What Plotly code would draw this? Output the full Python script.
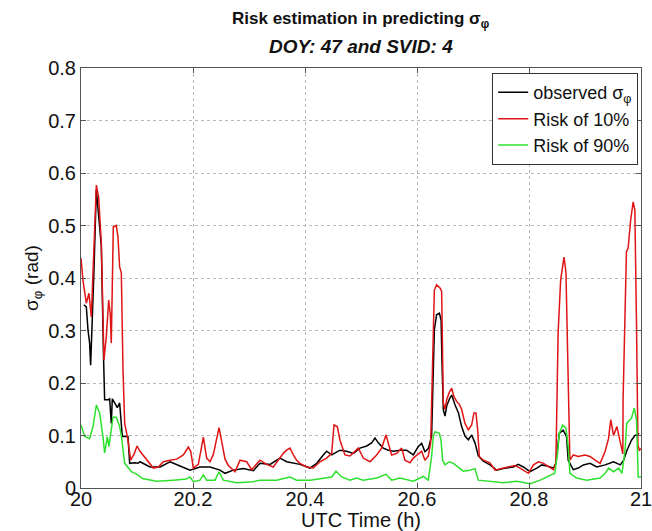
import plotly.graph_objects as go

# UTC time (h) and sigma_phi (rad) for each series
obs_t = [20.005, 20.0095, 20.0125, 20.0154, 20.0172, 20.0196, 20.0232, 20.0274, 20.0363, 20.040, 20.041,
         20.0422, 20.0482, 20.0511, 20.0541, 20.0559, 20.0601, 20.0648, 20.069, 20.072, 20.0738, 20.0839,
         20.0869, 20.0958, 20.1017, 20.1054, 20.1232, 20.1411, 20.159, 20.1768, 20.1947, 20.2125, 20.2304,
         20.2482, 20.2572, 20.272, 20.2899, 20.3078, 20.3196, 20.3375, 20.3553, 20.3672, 20.3791, 20.391,
         20.4089, 20.4208, 20.4327, 20.4387, 20.4476, 20.4625, 20.4744, 20.4863, 20.4982, 20.5101, 20.519,
         20.525, 20.5309, 20.5398, 20.5488, 20.5577, 20.5696, 20.5815, 20.5934, 20.6023, 20.6083, 20.6142,
         20.6202, 20.6261, 20.631, 20.635, 20.640, 20.643, 20.6446, 20.647, 20.650, 20.653, 20.658, 20.662,
         20.668, 20.674, 20.6797, 20.6857, 20.6916, 20.6976, 20.7035, 20.7095, 20.7184, 20.7303, 20.7422,
         20.7541, 20.772, 20.7809, 20.7898, 20.802, 20.814, 20.823, 20.832, 20.8435, 20.848, 20.854, 20.861,
         20.867, 20.870, 20.879, 20.888, 20.897, 20.909, 20.921, 20.936, 20.951, 20.963, 20.969, 20.975,
         20.983, 20.989, 20.997]
obs_v = [0.349, 0.345, 0.301, 0.276, 0.234, 0.326, 0.415, 0.568, 0.460, 0.260, 0.180,
         0.168, 0.168, 0.170, 0.123, 0.170, 0.162, 0.153, 0.162, 0.117, 0.098, 0.098,
         0.047, 0.048, 0.047, 0.050, 0.040, 0.040, 0.050, 0.042, 0.034, 0.040, 0.040,
         0.034, 0.028, 0.034, 0.037, 0.033, 0.047, 0.045, 0.057, 0.050, 0.047, 0.045,
         0.038, 0.047, 0.063, 0.070, 0.063, 0.072, 0.070, 0.066, 0.076, 0.080, 0.086,
         0.095, 0.086, 0.076, 0.072, 0.070, 0.072, 0.072, 0.063, 0.079, 0.085, 0.069,
         0.075, 0.099, 0.301, 0.330, 0.333, 0.320, 0.240, 0.149, 0.137, 0.156, 0.170, 0.177,
         0.158, 0.143, 0.117, 0.099, 0.092, 0.101, 0.086, 0.061, 0.051, 0.044, 0.034,
         0.037, 0.040, 0.045, 0.040, 0.031, 0.038, 0.044, 0.042, 0.038, 0.047, 0.104, 0.110,
         0.098, 0.053, 0.035, 0.038, 0.044, 0.047, 0.040, 0.044, 0.050, 0.044, 0.053, 0.072,
         0.091, 0.100, 0.104]

risk10_t = [20.0, 20.0035, 20.0095, 20.0142, 20.0184, 20.0214, 20.0274, 20.0315, 20.0363, 20.041, 20.0452,
            20.0494, 20.0523, 20.0541, 20.0577, 20.063, 20.066, 20.069, 20.072, 20.075, 20.078, 20.0839,
            20.0886, 20.095, 20.100, 20.1054, 20.1173, 20.1292, 20.1381, 20.147, 20.159, 20.171, 20.1828,
            20.1917, 20.1959, 20.2006, 20.2095, 20.2155, 20.2185, 20.2244, 20.2304, 20.2363, 20.2423, 20.2465,
            20.2512, 20.2572, 20.2631, 20.275, 20.284, 20.2959, 20.3048, 20.3196, 20.3315, 20.3434, 20.3523,
            20.3613, 20.3672, 20.3732, 20.3791, 20.385, 20.391, 20.4029, 20.4148, 20.4267, 20.4387, 20.4476,
            20.4518, 20.4577, 20.4625, 20.4672, 20.4714, 20.4803, 20.4892, 20.4952, 20.5041, 20.516, 20.5279,
            20.5369, 20.5446, 20.5488, 20.5547, 20.5637, 20.5726, 20.5785, 20.5875, 20.5934, 20.6023, 20.6083,
            20.6142, 20.6202, 20.6244, 20.628, 20.631, 20.635, 20.641, 20.644, 20.6452, 20.647, 20.650, 20.653,
            20.658, 20.662, 20.666, 20.6708, 20.6756, 20.6797, 20.6857, 20.6916, 20.6976, 20.7017, 20.7053,
            20.7083, 20.7113, 20.7184, 20.7303, 20.7393, 20.7511, 20.763, 20.7749, 20.784, 20.799, 20.808,
            20.817, 20.826, 20.835, 20.8435, 20.848, 20.8494, 20.852, 20.8565, 20.8625, 20.866, 20.8685,
            20.871, 20.872, 20.873, 20.879, 20.888, 20.900, 20.909, 20.918, 20.927, 20.936, 20.942, 20.946,
            20.951, 20.957, 20.963, 20.9675, 20.968, 20.971, 20.974, 20.977, 20.9815, 20.986, 20.989, 20.992,
            20.993, 20.9945, 20.997, 21.0]
risk10_v = [0.438, 0.396, 0.352, 0.371, 0.326, 0.415, 0.577, 0.554, 0.466, 0.244, 0.288,
            0.358, 0.330, 0.276, 0.497, 0.500, 0.478, 0.421, 0.410, 0.225, 0.123, 0.091,
            0.053, 0.065, 0.080, 0.070, 0.053, 0.038, 0.040, 0.050, 0.053, 0.055, 0.063,
            0.078, 0.070, 0.038, 0.045, 0.085, 0.097, 0.057, 0.050, 0.064, 0.098, 0.115,
            0.089, 0.055, 0.043, 0.031, 0.053, 0.050, 0.035, 0.053, 0.045, 0.040, 0.053,
            0.066, 0.072, 0.076, 0.063, 0.053, 0.047, 0.040, 0.038, 0.050, 0.057, 0.066,
            0.120, 0.117, 0.091, 0.078, 0.063, 0.061, 0.070, 0.076, 0.057, 0.050, 0.063,
            0.076, 0.101, 0.083, 0.063, 0.066, 0.076, 0.053, 0.048, 0.057, 0.065, 0.070,
            0.053, 0.061, 0.086, 0.225, 0.377, 0.387, 0.381, 0.375, 0.288, 0.162, 0.150, 0.168,
            0.183, 0.190, 0.174, 0.165, 0.159, 0.150, 0.123, 0.111, 0.120, 0.143, 0.143,
            0.111, 0.060, 0.053, 0.048, 0.034, 0.037, 0.040, 0.043, 0.038, 0.028, 0.044,
            0.050, 0.047, 0.040, 0.035, 0.047, 0.168, 0.295, 0.396, 0.440, 0.410, 0.269,
            0.168, 0.091, 0.053, 0.063, 0.060, 0.063, 0.060, 0.053, 0.047, 0.070, 0.094, 0.130,
            0.100, 0.117, 0.089, 0.065, 0.168, 0.290, 0.450, 0.457, 0.510, 0.545, 0.530, 0.310,
            0.200, 0.082, 0.072, 0.075]

risk90_t = [20.0, 20.0065, 20.0154, 20.0214, 20.0274, 20.0333, 20.0392, 20.0422, 20.047, 20.0499, 20.0541,
            20.0571, 20.063, 20.069, 20.072, 20.078, 20.090, 20.100, 20.110, 20.135, 20.165, 20.188, 20.1947,
            20.2006, 20.2125, 20.2185, 20.2244, 20.2393, 20.2465, 20.2542, 20.278, 20.3078, 20.3196, 20.3494,
            20.3732, 20.385, 20.409, 20.4327, 20.4476, 20.4553, 20.4654, 20.4803, 20.4922, 20.504, 20.528,
            20.5446, 20.5547, 20.5696, 20.5934, 20.6113, 20.6202, 20.6261, 20.6291, 20.6321, 20.6398, 20.6428,
            20.6458, 20.650, 20.6577, 20.6649, 20.6738, 20.6827, 20.6946, 20.7035, 20.7095, 20.7303, 20.7541,
            20.7779, 20.802, 20.820, 20.838, 20.846, 20.851, 20.854, 20.860, 20.866, 20.870, 20.873, 20.885,
            20.903, 20.927, 20.936, 20.942, 20.951, 20.960, 20.966, 20.9715, 20.9745, 20.983, 20.988, 20.992,
            20.995, 21.0]
risk90_v = [0.120, 0.098, 0.094, 0.117, 0.158, 0.143, 0.098, 0.067, 0.098, 0.079, 0.111,
            0.135, 0.135, 0.117, 0.100, 0.047, 0.031, 0.026, 0.018, 0.013, 0.015, 0.017, 0.021,
            0.012, 0.015, 0.025, 0.015, 0.015, 0.031, 0.015, 0.010, 0.012, 0.015, 0.015,
            0.021, 0.015, 0.015, 0.019, 0.021, 0.032, 0.021, 0.015, 0.019, 0.015, 0.019,
            0.026, 0.015, 0.019, 0.013, 0.022, 0.015, 0.060, 0.098, 0.107, 0.104, 0.092,
            0.053, 0.044, 0.050, 0.047, 0.040, 0.032, 0.034, 0.037, 0.015, 0.013, 0.010,
            0.013, 0.008, 0.015, 0.025, 0.028, 0.066, 0.104, 0.120, 0.114, 0.079, 0.028, 0.019,
            0.015, 0.019, 0.028, 0.038, 0.031, 0.038, 0.028, 0.072, 0.123, 0.133, 0.152, 0.130,
            0.021, 0.021]

x_ticks = [20, 20.2, 20.4, 20.6, 20.8, 21]
x_tick_labels = ["20", "20.2", "20.4", "20.6", "20.8", "21"]
y_ticks = [0, 0.1, 0.2, 0.3, 0.4, 0.5, 0.6, 0.7, 0.8]
y_tick_labels = ["0", "0.1", "0.2", "0.3", "0.4", "0.5", "0.6", "0.7", "0.8"]

FONT = "Liberation Sans, Arial, sans-serif"
INK = "#111111"

fig = go.Figure()
fig.add_trace(go.Scatter(x=obs_t, y=obs_v, mode="lines", name="observed σ<sub>φ</sub>",
                         line=dict(color="#000000", width=1.5)))
fig.add_trace(go.Scatter(x=risk10_t, y=risk10_v, mode="lines", name="Risk of 10%",
                         line=dict(color="#e01414", width=1.5)))
fig.add_trace(go.Scatter(x=risk90_t, y=risk90_v, mode="lines", name="Risk of 90%",
                         line=dict(color="#2ee02e", width=1.5)))

axis_common = dict(
    automargin=False,
    showline=True, linecolor="#555555", linewidth=1, mirror="allticks",
    ticks="inside", ticklen=5, tickcolor="#555555",
    showgrid=True, gridcolor="#b8b8b8", griddash="dot", gridwidth=1,
    zeroline=False, tickfont=dict(family=FONT, size=20, color=INK),
)

fig.update_xaxes(range=[20, 21], tickvals=x_ticks, ticktext=x_tick_labels,
                 ticklabeloverflow="allow", ticklabelstandoff=-7,
                 title=dict(text="UTC Time (h)", font=dict(family=FONT, size=20, color=INK),
                            standoff=0),
                 **axis_common)
fig.update_yaxes(range=[0, 0.8], tickvals=y_ticks, ticktext=y_tick_labels,
                 title=dict(text="σ<sub>φ</sub> (rad)", font=dict(family=FONT, size=19, color=INK),
                            standoff=4),
                 **axis_common)

fig.update_layout(
    width=652, height=531,
    margin=dict(l=81, r=11, t=68, b=43),
    paper_bgcolor="white", plot_bgcolor="white",
    font=dict(family=FONT, color=INK),
    legend=dict(x=0.995, y=0.988, xanchor="right", yanchor="top",
                bgcolor="white", bordercolor="#333333", borderwidth=1,
                font=dict(family=FONT, size=18, color=INK),
                itemwidth=30, tracegroupgap=0),
    annotations=[
        dict(text="<b>Risk estimation in predicting σ<sub>φ</sub></b>", xref="paper", yref="paper",
             x=0.5, y=1 + (68 - 20) / 420, xanchor="center", yanchor="middle", showarrow=False,
             font=dict(family=FONT, size=17, color=INK)),
        dict(text="<b><i>DOY: 47 and SVID: 4</i></b>", xref="paper", yref="paper",
             x=0.5, y=1 + (68 - 47) / 420, xanchor="center", yanchor="middle", showarrow=False,
             font=dict(family=FONT, size=19, color=INK)),
    ],
)

fig.write_html("out.html")
